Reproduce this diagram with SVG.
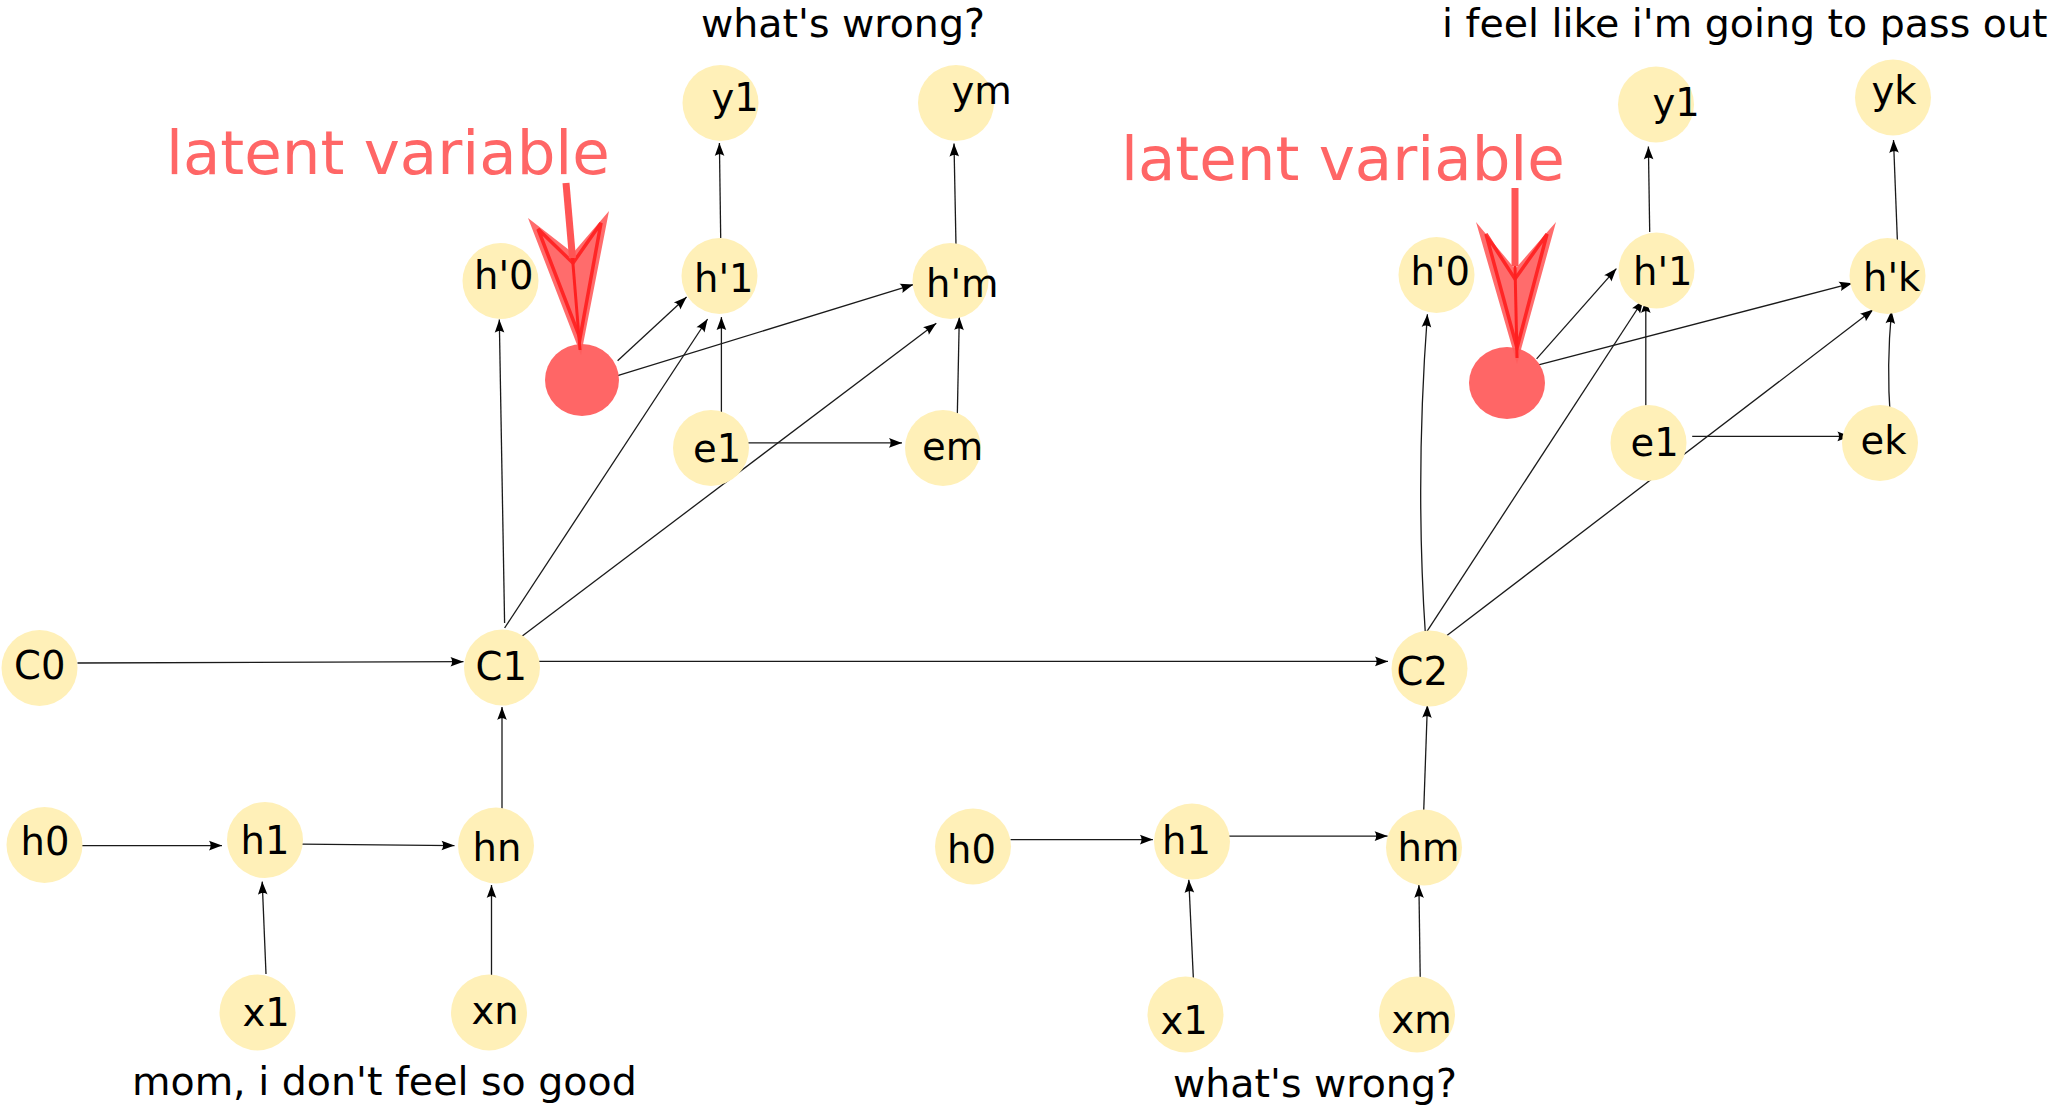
<svg xmlns="http://www.w3.org/2000/svg" width="2055" height="1108" viewBox="0 0 2055 1108">
<defs>
<style>
.n{fill:#fff0b8;}
.lv{fill:#ff6666;}
.t{font-family:"DejaVu Sans",sans-serif;font-size:38.5px;fill:#000;}
.s{font-family:"DejaVu Sans",sans-serif;font-size:39.5px;fill:#000;}
.big{font-family:"DejaVu Sans",sans-serif;font-size:61px;fill:#ff6666;}
.c{fill:none;stroke:#1a1a1a;stroke-width:1.3;marker-end:url(#ah);}
.af{fill:#ff5c5c;fill-opacity:0.9;}
.ai{fill:none;stroke:#ff1a1a;stroke-width:3.5;stroke-linejoin:miter;stroke-opacity:0.85;}
.ash{fill:none;stroke:#ff5555;stroke-width:7;}
.acl{fill:none;stroke:#ff2020;stroke-width:3;}
</style>
<marker id="ah" markerUnits="userSpaceOnUse" viewBox="-14 -6 16 12" refX="0" refY="0" markerWidth="16" markerHeight="12" orient="auto" overflow="visible">
<path d="M0,0 L-13,-4.8 C-10.8,-1.9 -10.8,1.9 -13,4.8 Z" fill="#000"/>
</marker>
</defs>
<rect width="2055" height="1108" fill="#fff"/>

<g id="connectors">
<path class="c" d="M77.5,663 L463.5,661.7"/>
<path class="c" d="M537,661.4 L1388,661.4"/>
<path class="c" d="M74,845.6 L222,845.6"/>
<path class="c" d="M302,844.2 L454.5,845.6"/>
<path class="c" d="M266,974 L262.2,881.6"/>
<path class="c" d="M491.5,976 L491.5,885"/>
<path class="c" d="M502,811 L502,707"/>
<path class="c" d="M504.6,623 L499.3,319.6"/>
<path class="c" d="M504.6,628 L707.6,319"/>
<path class="c" d="M522.3,636 L936.3,323.2"/>
<path class="c" d="M617.6,360.7 L686.6,297.1"/>
<path class="c" d="M617.6,375.7 L913.3,284.6"/>
<path class="c" d="M721.4,417 L721.4,317.1"/>
<path class="c" d="M744.4,442.9 L902,442.9"/>
<path class="c" d="M957.3,415.4 L959.3,317.1"/>
<path class="c" d="M720.7,238 L719.4,143"/>
<path class="c" d="M956,245.7 L954,143.6"/>

<path class="c" d="M1425.5,636 Q1415,480 1427.4,314.3"/>
<path class="c" d="M1426.8,631.7 L1643.2,300"/>
<path class="c" d="M1443,638.6 L1873.3,309.6"/>
<path class="c" d="M1423.5,817 L1427.4,705"/>
<path class="c" d="M1010.5,839.6 L1152.9,839.6"/>
<path class="c" d="M1228,836.1 L1387.6,836.1"/>
<path class="c" d="M1193.4,979.4 L1188.8,879.8"/>
<path class="c" d="M1420.2,977 L1418.9,885"/>
<path class="c" d="M1536.6,358.9 L1616.4,268.6"/>
<path class="c" d="M1536.6,365.4 L1852.3,283.2"/>
<path class="c" d="M1645.8,405.4 L1645.8,300"/>
<path class="c" d="M1692.2,436.4 L1850.4,436.4"/>
<path class="c" d="M1890.3,418 Q1886.5,365 1891.5,310.7"/>
<path class="c" d="M1649.7,232 L1648.4,146.4"/>
<path class="c" d="M1897.4,241 L1893.5,140"/>
</g>

<g id="C0"><circle class="n" cx="39.5" cy="668" r="38"/><text class="t" x="14" y="678.5">C0</text></g>
<g id="C1"><circle class="n" cx="502" cy="667.5" r="38"/><text class="t" x="475.5" y="680">C1</text></g>
<g id="h0-left"><circle class="n" cx="44.5" cy="845" r="38"/><text class="t" x="20.5" y="855">h0</text></g>
<g id="h1-left"><circle class="n" cx="265" cy="840" r="38"/><text class="t" x="240.5" y="854">h1</text></g>
<g id="hn"><circle class="n" cx="496" cy="845.5" r="38"/><text class="t" x="472.5" y="860.5">hn</text></g>
<g id="x1-left"><circle class="n" cx="257.5" cy="1012.5" r="38"/><text class="t" x="242.5" y="1025.5">x1</text></g>
<g id="xn"><circle class="n" cx="489" cy="1012.5" r="38"/><text class="t" x="471.5" y="1023.5">xn</text></g>
<g id="hp0-left"><circle class="n" cx="500.5" cy="281" r="38"/><text class="t" x="474" y="289">h'0</text></g>
<g id="hp1-left"><circle class="n" cx="719.5" cy="276" r="38"/><text class="t" x="694" y="291.5">h'1</text></g>
<g id="hpm"><circle class="n" cx="950.5" cy="281" r="38"/><text class="t" x="926" y="297">h'm</text></g>
<g id="y1-left"><circle class="n" cx="720.5" cy="103" r="38"/><text class="t" x="711.5" y="111">y1</text></g>
<g id="ym"><circle class="n" cx="956" cy="103" r="38"/><text class="t" x="951.5" y="104">ym</text></g>
<g id="e1-left"><circle class="n" cx="711" cy="448" r="38"/><text class="t" x="693" y="462">e1</text></g>
<g id="em"><circle class="n" cx="943" cy="448" r="38"/><text class="t" x="922" y="460">em</text></g>
<g id="latent-left"><ellipse class="lv" cx="582" cy="380" rx="37" ry="36"/></g>

<g id="h0-right"><circle class="n" cx="973" cy="846.5" r="38"/><text class="t" x="947" y="862.5">h0</text></g>
<g id="h1-right"><circle class="n" cx="1192" cy="841.5" r="38"/><text class="t" x="1162" y="853.5">h1</text></g>
<g id="hm"><circle class="n" cx="1424" cy="847.5" r="38"/><text class="t" x="1397.5" y="861">hm</text></g>
<g id="x1-right"><circle class="n" cx="1185.5" cy="1014.5" r="38"/><text class="t" x="1160.5" y="1034">x1</text></g>
<g id="xm"><circle class="n" cx="1417" cy="1014.5" r="38"/><text class="t" x="1391.5" y="1032.5">xm</text></g>
<g id="C2"><circle class="n" cx="1429.5" cy="668.5" r="38"/><text class="t" x="1396.5" y="684.5">C2</text></g>
<g id="hp0-right"><circle class="n" cx="1436.5" cy="275" r="38"/><text class="t" x="1410.5" y="284.5">h'0</text></g>
<g id="hp1-right"><circle class="n" cx="1656.5" cy="270.5" r="38"/><text class="t" x="1633" y="284.5">h'1</text></g>
<g id="hpk"><circle class="n" cx="1887.5" cy="276" r="38"/><text class="t" x="1863" y="290.5">h'k</text></g>
<g id="y1-right"><circle class="n" cx="1656" cy="104.5" r="38"/><text class="t" x="1652.5" y="116">y1</text></g>
<g id="yk"><circle class="n" cx="1893" cy="97.5" r="38"/><text class="t" x="1871.5" y="104">yk</text></g>
<g id="e1-right"><circle class="n" cx="1648.5" cy="443" r="38"/><text class="t" x="1630.5" y="456">e1</text></g>
<g id="ek"><circle class="n" cx="1880" cy="443" r="38"/><text class="t" x="1860.5" y="453.5">ek</text></g>
<g id="latent-right"><ellipse class="lv" cx="1507" cy="383" rx="38" ry="36"/></g>

<g id="red-arrow-left">
<polygon class="af" points="528,218 573,253 609,211 581,355"/>
<polygon class="ai" points="538,229 573,263 601,223 580,338"/>
<line class="ash" x1="566" y1="183" x2="572.5" y2="258"/>
<line class="acl" x1="572.5" y1="258" x2="580" y2="350"/>
</g>
<g id="red-arrow-right">
<polygon class="af" points="1476,222 1515,269 1556,222 1517,364"/>
<polygon class="ai" points="1486,234 1515,279 1547,234 1517,348"/>
<line class="ash" x1="1515" y1="188" x2="1515" y2="266"/>
<line class="acl" x1="1515" y1="266" x2="1517" y2="358"/>
</g>

<text class="big" x="166" y="174">latent variable</text>
<text class="big" x="1121" y="180">latent variable</text>
<text class="s" x="701" y="37">what's wrong?</text>
<text class="s" x="1442" y="37">i feel like i'm going to pass out</text>
<text class="s" x="132" y="1095">mom, i don't feel so good</text>
<text class="s" x="1173" y="1096.5">what's wrong?</text>
</svg>
